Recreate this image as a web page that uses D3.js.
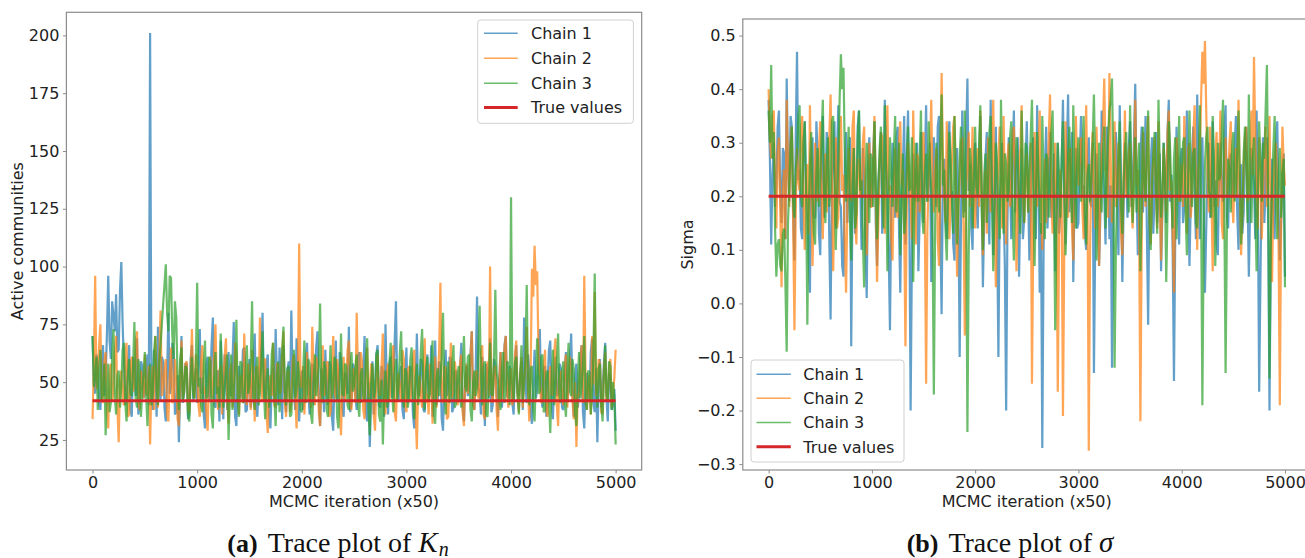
<!DOCTYPE html>
<html><head><meta charset="utf-8">
<script src="https://cdn.jsdelivr.net/npm/d3@7"></script>
<style>html,body{margin:0;padding:0;background:#fff;} svg{display:block}</style>
</head><body>
<svg id="c" width="1305" height="558"></svg>
<script>
// ---------------- data ----------------
const iterStep = 12.5;            // MCMC iteration (x50) between stored samples
const xTicks = [0, 1000, 2000, 3000, 4000, 5000];
const seriesNames = ["Chain 1", "Chain 2", "Chain 3", "True values"];
const trueK = 42;
const trueSigma = 0.2;
const kTicks = [25, 50, 75, 100, 125, 150, 175, 200];
const sigmaTicks = [-0.3, -0.2, -0.1, 0.0, 0.1, 0.2, 0.3, 0.4, 0.5];

const kChain1 = [
70,50,45,62,58,41,38,55,66,44,52,71,96,68,60,85,79,72,88,63,64,90,102,75,58,40,44,57,66,38,35,61,52,44,69,36,40,59,57,43,
46,55,62,40,201,48,38,64,55,35,74,50,42,61,59,39,33,52,80,45,48,67,63,36,37,53,24,47,70,41,45,58,58,34,36,60,66,42,49,56,
41,60,73,45,52,36,30,58,61,42,47,66,78,40,39,54,55,33,68,49,34,62,50,38,63,47,44,59,76,35,31,53,57,43,48,64,65,37,38,51,
60,39,45,57,71,42,35,50,54,63,80,44,42,58,62,36,30,48,56,41,73,52,40,65,52,34,66,47,37,55,59,43,81,50,46,38,69,56,33,49,
55,38,43,61,67,46,36,53,58,40,49,65,72,44,31,56,53,37,64,48,40,59,57,35,29,51,68,42,45,63,60,39,35,54,50,45,74,37,41,58,
56,44,38,60,63,41,47,55,70,37,33,50,22,45,59,36,44,62,66,40,39,57,54,35,75,49,36,58,61,43,48,67,85,46,42,53,57,38,34,52,
65,41,46,57,53,36,30,49,71,45,44,60,58,38,37,53,62,42,50,66,35,47,68,40,43,59,56,34,29,52,64,44,48,61,60,37,39,54,55,42,
42,56,67,39,33,51,57,44,49,62,72,41,38,55,87,48,45,36,61,50,31,58,54,43,69,37,40,60,58,45,35,52,63,39,47,66,70,44,43,57,
52,41,36,58,66,45,44,53,59,38,78,50,41,62,55,37,32,49,64,43,47,59,73,46,39,55,57,35,50,64,68,42,34,51,61,44,45,58,56,39,
38,55,63,42,48,60,71,45,35,52,58,39,44,61,66,37,30,50,54,44,42,63,69,41,37,56,24,48,60,39,46,58,67,43,33,54,52,38,40,47,
29];
const kChain2 = [
34,58,96,47,52,66,75,43,41,59,63,37,30,54,58,42,45,63,70,39,24,51,55,44,40,62,67,35,36,57,61,46,48,68,72,41,38,55,50,43,
62,45,44,57,23,49,57,38,70,52,39,61,81,44,47,56,60,36,33,53,65,41,42,60,55,34,31,50,68,43,46,58,59,38,37,55,73,47,43,62,
54,40,35,59,66,45,48,37,29,52,61,43,44,64,75,48,38,55,57,36,50,61,69,42,32,54,58,39,45,67,63,46,36,53,52,41,71,49,40,58,
47,38,64,51,33,57,56,42,78,47,42,60,60,36,28,49,53,44,67,40,39,58,58,45,46,63,72,41,35,54,55,37,41,59,62,44,30,52,110,48,
48,57,36,50,63,42,52,39,74,55,40,61,57,37,31,53,66,44,45,59,58,35,37,51,70,46,43,60,55,38,27,49,61,42,49,64,68,40,38,56,
53,41,80,52,41,63,59,38,34,55,65,43,47,58,56,36,29,50,62,45,44,57,71,39,36,54,58,42,48,61,66,37,33,52,54,46,42,64,60,40,
37,55,57,42,46,60,64,38,21,49,53,44,39,58,69,41,45,36,58,52,32,47,61,39,50,63,93,45,41,57,56,34,35,50,67,43,47,59,54,40,
43,58,62,37,31,52,58,45,49,61,72,40,38,54,55,43,44,63,66,36,34,51,59,44,100,47,41,56,57,38,29,50,63,42,48,65,70,45,39,53,
56,40,45,62,68,44,37,53,61,39,50,58,74,46,33,55,99,87,109,92,98,62,52,41,42,57,64,38,35,50,57,44,46,63,69,40,31,52,55,43,
40,56,62,39,48,61,57,42,34,50,22,45,44,58,66,41,96,53,38,47,53,36,70,49,89,44,47,60,58,37,36,55,63,42,43,57,60,39,45,52,
64];
const kChain3 = [
70,48,52,61,38,55,64,42,45,58,27,46,58,37,41,62,73,44,36,53,55,39,48,64,67,41,33,52,60,45,44,57,76,43,39,60,56,35,47,54,
63,44,31,52,58,40,45,63,70,47,40,58,66,75,84,92,101,80,72,96,95,70,60,85,78,52,38,60,65,42,46,57,56,36,33,51,61,44,43,59,
93,48,52,40,37,57,68,43,44,61,59,36,30,52,63,45,48,39,71,54,39,47,55,62,25,44,62,38,46,56,77,42,35,59,58,41,42,53,66,45,
49,60,85,43,38,55,61,40,45,58,72,47,34,51,56,39,43,62,67,44,31,53,59,37,50,64,74,46,40,56,57,35,36,50,64,43,47,59,53,38,
37,54,68,41,45,60,58,36,32,49,62,44,50,57,84,46,41,59,56,38,35,52,66,43,47,61,59,35,30,50,71,45,44,58,57,40,38,55,63,46,
48,57,62,40,35,53,56,44,42,60,69,38,27,49,58,43,46,62,64,36,33,51,23,45,55,39,41,58,67,46,37,54,60,42,49,63,72,44,39,56,
54,39,43,60,65,45,34,52,58,40,47,63,73,48,38,55,61,42,45,58,68,37,32,51,56,44,50,62,80,47,36,55,59,41,44,57,66,39,41,53,
57,43,39,55,70,48,46,61,62,38,33,50,55,44,48,65,83,52,40,57,59,36,35,49,67,45,44,60,90,54,51,42,38,56,63,41,47,59,58,40,
130,50,42,58,61,44,36,53,66,41,49,60,92,47,40,56,57,38,33,52,69,45,46,61,62,37,38,54,55,43,28,49,64,40,47,58,71,44,41,55,
59,42,35,54,67,46,44,60,56,37,31,50,63,43,48,57,70,41,38,55,54,36,45,62,97,48,39,56,58,40,33,52,66,45,42,59,57,38,50,44,
23];

const sigmaChain1 = [
.38,.27,.11,.24,.30,.18,.22,.33,.36,.21,.15,.29,.28,.12,.42,.26,.19,.35,.33,.17,.08,.31,.47,.23,.25,.14,.12,.30,.34,.20,.20,.09,.02,.27,.31,.16,.16,.34,.27,.13,
.09,.25,.35,.16,.21,.32,.30,.12,-.03,.22,.26,.34,.14,.28,.37,.19,.18,.07,.05,.26,.32,.15,.23,.31,-.08,.20,.29,.13,.17,.33,.36,.22,.10,.29,.24,.11,.01,.25,.31,.18,
.19,.28,.34,.15,.07,.23,.27,.32,.13,.20,.38,.26,.22,.10,-.05,.18,.30,.24,.16,.31,.33,.14,.02,.21,.25,.35,.11,.27,.36,.17,-.20,.09,.28,.23,.19,.30,.06,.16,.32,.22,
.15,.26,.37,.19,.24,.30,.04,.17,.31,.22,.18,.33,.35,.13,-.02,.24,.27,.16,.12,.29,.34,.20,.21,.11,.08,.27,.29,.18,-.10,.15,.36,.25,.17,.31,.42,.21,.26,.14,.10,.28,
.30,.19,.14,.27,.35,.22,.03,.16,.27,.32,.20,.11,.38,.25,.09,.20,.33,.14,-.10,.18,.24,.30,.18,.07,-.20,.15,.31,.23,.12,.28,.36,.17,.22,.31,.05,.19,.29,.12,.16,.26,
.34,.21,.08,.18,.27,.31,.19,.12,.37,.24,.02,.15,-.27,.10,.25,.33,.14,.22,.32,.16,.21,.28,.06,.19,.30,.13,.17,.26,.38,.21,.11,.29,.39,.17,.24,.32,.04,.20,.29,.14,
.15,.27,.35,.20,.22,.13,.10,.25,.31,.19,.18,.30,-.13,.12,.28,.21,.07,.17,.36,.24,.20,.11,.33,.27,.12,.22,-.12,.16,.26,.32,.19,.09,.37,.23,.04,.18,.30,.25,.16,.29,
.34,.18,.23,.30,.41,.22,.09,.16,.28,.33,.17,.25,.35,.14,-.04,.20,.26,.31,.13,.21,.32,.15,.20,.28,.06,.17,.30,.24,.15,.32,.38,.19,.24,.10,-.145,.13,.33,.22,.11,.27,
.29,.15,.18,.26,.36,.21,.07,.19,.27,.33,.21,.12,.39,.24,.12,.28,.31,.17,.02,.14,.25,.30,.16,.22,.34,.18,.23,.11,.09,.25,.30,.20,.19,.32,.37,.16,.14,.27,.28,.20,
.20,.29,.35,.17,.10,.24,.26,.13,.17,.30,.33,.21,.05,.18,.29,.25,.22,.12,.36,.19,-.165,.05,.24,.31,.15,.22,.31,.14,-.20,.10,.27,.21,.12,.30,.34,.18,.08,.15,.23,.28,
.05];
const sigmaChain2 = [
.40,.31,.27,.35,.36,.22,.14,.28,.31,.18,.03,.21,.25,.12,.38,.26,.18,.30,.33,.15,-.05,.17,.29,.23,.21,.32,.35,.19,.10,.24,.26,.13,.37,.22,.07,.18,.30,.25,.19,.29,
.34,.20,.12,.25,.28,.17,.22,.31,.39,.24,.06,.19,.31,.14,.16,.27,.35,.21,.24,.11,.02,.18,.29,.23,.19,.33,.36,.16,.11,.26,.27,.20,.21,.30,.33,.15,.09,.22,.30,.18,
.18,.27,.35,.20,.04,.15,.26,.32,.31,.19,.13,.24,.37,.21,.22,.12,.08,.23,.29,.17,.16,.30,.34,.22,.25,.14,-.08,.18,.30,.25,.19,.12,.36,.23,.11,.28,.27,.17,.21,.31,
.32,.16,-.15,.14,.24,.29,.38,.21,.17,.26,.29,.12,.07,.22,.43,.28,.20,.15,.34,.24,.12,.19,.27,.33,.35,.20,.05,.18,.23,.30,.31,.14,-.06,.21,.26,.32,.18,.24,.33,.16,
.14,.25,.29,.18,.36,.22,.09,.20,.25,.13,.31,.24,.17,.29,.38,.19,.03,.16,.27,.33,.22,.14,.35,.21,.11,.27,.30,.18,.19,.32,.33,.23,.06,.17,.26,.29,.37,.20,.15,.24,
.28,.17,.21,.30,-.15,.13,.32,.24,.18,.27,.36,.20,.10,.22,.27,.15,.23,.31,.39,.19,.13,.25,.30,.16,-.165,.12,.25,.20,-.21,.09,.34,.23,.16,.28,.29,.14,.08,.21,.35,.26,
.22,.29,.31,.18,.12,.26,.37,.21,-.275,.10,.26,.32,.19,.14,.33,.22,.07,.19,.29,.33,.42,.25,.24,.16,.43,.27,.15,.21,.34,.18,.20,.30,.27,.13,.09,.24,.36,.20,.23,.28,
.30,.19,.14,.26,.38,.22,.25,.15,-.22,.12,.32,.24,.18,.29,.35,.17,.11,.23,.27,.31,.21,.14,.34,.20,.08,.18,.29,.25,.17,.32,.36,.21,.23,.13,.02,.19,.31,.27,.19,.24,
.26,.18,.35,.23,.13,.29,.30,.16,.20,.31,.37,.22,.10,.25,.28,.38,.47,.41,.49,.36,.24,.17,.33,.21,.06,.19,.27,.32,.18,.24,.36,.15,.12,.27,.31,.20,.22,.30,.34,.19,
.15,.26,.29,.20,.38,.22,.09,.17,.26,.31,.33,.19,.20,.28,.36,.24,.46,.30,.23,.14,.31,.25,.12,.20,.28,.33,.18,.23,.35,.16,.04,.21,.27,.30,.21,.12,-.19,.15,.33,.26,
.22];
const sigmaChain3 = [
.36,.30,.445,.27,.32,.14,.05,.11,.12,.07,.06,.13,.14,.04,-.09,.15,.22,.29,.33,.19,.16,.25,.28,.35,.37,.20,.18,.30,.34,.22,-.04,.17,.26,.32,.20,.13,.11,.24,.29,.18,
.24,.31,.38,.20,.15,.26,.31,.18,.21,.34,.35,.23,.10,.19,.27,.38,.465,.40,.44,.28,.19,.25,.33,.16,.08,.22,.29,.14,.17,.31,.36,.21,.23,.12,.03,.20,.30,.26,.15,.28,
.27,.18,.34,.23,.12,.21,.29,.33,.20,.14,.37,.25,.06,.19,.31,.24,.18,.28,.35,.17,.24,.30,.09,.20,.28,.13,.16,.26,.33,.21,.22,.31,.04,.18,.30,.23,.19,.27,.36,.16,
.13,.24,.28,.19,.34,.26,.21,.12,-.17,.15,.30,.23,.17,.31,.39,.22,.25,.14,.08,.20,.32,.27,.19,.13,.35,.24,.11,.18,.27,.33,.22,.16,.36,.20,-.24,.09,.29,.25,.14,.22,
.33,.22,.20,.29,.37,.18,.10,.24,.28,.15,.23,.32,.35,.20,.06,.17,.30,.26,.17,.12,.38,.23,.13,.28,.26,.19,.21,.31,.34,.16,.08,.22,.31,.27,.19,.13,.36,.24,.15,.30,
.29,.17,.24,.31,.38,.21,.07,.19,.32,.25,.18,.13,.35,.23,.12,.28,.27,.16,.21,.32,.36,.19,-.05,.14,.30,.24,.16,.27,.34,.20,.09,.18,.28,.33,.22,.15,.37,.23,.14,.26,
.31,.22,.19,.27,.35,.16,.11,.24,.26,.19,.23,.30,.39,.25,.08,.18,.30,.21,.17,.28,.33,.14,.24,.31,.36,.38,.42,.26,-.12,.10,.20,.29,.34,.18,.13,.23,.28,.32,.22,.17,
.37,.24,.15,.21,.31,.17,.25,.30,.06,.19,.33,.23,.19,.28,.36,.15,.10,.22,.28,.32,.22,.13,.38,.26,.16,.20,.30,.24,.04,.17,.34,.29,.21,.14,.27,.31,.12,.23,.35,.19,
.23,.30,.31,.18,.09,.22,.36,.25,.18,.28,.29,.15,.14,.26,.37,.20,-.19,.12,.26,.31,.33,.21,.20,.16,.35,.27,.07,.19,.30,.23,.24,.32,.38,.18,-.13,.14,.27,.25,.17,.29,
.32,.19,.21,.28,.36,.24,.11,.17,.28,.33,.25,.15,.39,.22,.15,.27,.31,.18,.06,.20,.34,.26,.19,.30,.27,.36,.445,.21,-.14,.11,.23,.29,.35,.18,.12,.24,.29,.16,.24,.27,
.03];

// ---------------- drawing ----------------
const chainColors = ["#1f77b4", "#ff7f0e", "#2ca02c"];
const trueColor = "#d62728";
const FONT = "'DejaVu Sans', sans-serif";
const SERIF = "'Liberation Serif', 'Times New Roman', serif";
const svg = d3.select("#c");

function panel(cfg) {
  const g = svg.append("g");
  const x = d3.scaleLinear().domain([-250, 5249]).range(cfg.xRange);
  const y = d3.scaleLinear().domain(cfg.yDomain).range([470, cfg.top]);

  const line = d3.line().x((d, i) => x(i * iterStep)).y(d => y(d));
  cfg.chains.forEach((c, k) => {
    g.append("path").datum(c).attr("d", line)
      .attr("fill", "none").attr("stroke", chainColors[k])
      .attr("stroke-width", 2.2).attr("stroke-opacity", 0.7)
      .attr("stroke-linejoin", "bevel");
  });
  g.append("line").attr("x1", x(0)).attr("x2", x(4999))
    .attr("y1", y(cfg.trueVal)).attr("y2", y(cfg.trueVal))
    .attr("stroke", trueColor).attr("stroke-width", 3);

  g.append("rect").attr("x", cfg.xRange[0]).attr("y", cfg.top)
    .attr("width", cfg.xRange[1] - cfg.xRange[0]).attr("height", 470 - cfg.top)
    .attr("fill", "none").attr("stroke", "#8c8c8c").attr("stroke-width", 1.2);

  const xa = g.append("g").attr("transform", "translate(0,470)")
    .call(d3.axisBottom(x).tickValues(xTicks).tickFormat(d3.format("d")).tickSize(3.5).tickPadding(3));
  const ya = g.append("g").attr("transform", `translate(${cfg.xRange[0]},0)`)
    .call(d3.axisLeft(y).tickValues(cfg.yTicks).tickFormat(cfg.yFmt).tickSize(3.5).tickPadding(3.5));
  [xa, ya].forEach(a => {
    a.select(".domain").remove();
    a.selectAll(".tick line").attr("stroke", "#8c8c8c").attr("stroke-width", 1);
    a.selectAll(".tick text").attr("fill", "#222").style("font-family", FONT).style("font-size", "16px");
  });

  g.append("text").attr("x", (cfg.xRange[0] + cfg.xRange[1]) / 2).attr("y", 506.5)
    .attr("text-anchor", "middle").style("font-family", FONT).style("font-size", "16px")
    .attr("fill", "#222").text("MCMC iteration (x50)");
  g.append("text").attr("transform", `translate(${cfg.ylabelX},${(470 + cfg.top) / 2}) rotate(-90)`)
    .attr("text-anchor", "middle").style("font-family", FONT).style("font-size", "16px")
    .attr("fill", "#222").text(cfg.ylabel);

  const L = cfg.legend;
  const lg = g.append("g");
  lg.append("rect").attr("x", L.x0).attr("y", L.y0).attr("width", L.x1 - L.x0).attr("height", L.y1 - L.y0)
    .attr("rx", 3).attr("fill", "#fff").attr("fill-opacity", 0.8)
    .attr("stroke", "#d0d0d0").attr("stroke-width", 1);
  seriesNames.forEach((name, i) => {
    const yy = L.rows[i];
    lg.append("line").attr("x1", L.hx0).attr("x2", L.hx1).attr("y1", yy).attr("y2", yy)
      .attr("stroke", i < 3 ? chainColors[i] : trueColor)
      .attr("stroke-width", i < 3 ? 1.5 : 3).attr("stroke-opacity", i < 3 ? 0.7 : 1);
    lg.append("text").attr("x", L.tx).attr("y", yy + 5.8)
      .style("font-family", FONT).style("font-size", "16px").attr("fill", "#222").text(name);
  });

  const cap = g.append("text").attr("x", cfg.capX).attr("y", 552)
    .attr("text-anchor", "middle").style("font-family", SERIF)
    .style("font-size", "28px").attr("fill", "#111");
  cap.append("tspan").style("font-weight", "bold").style("font-size", "26px").text(cfg.capTag);
  cap.append("tspan").attr("dx", 10).text("Trace plot of ");
  cap.append("tspan").style("font-style", "italic").style("font-size", "29px").text(cfg.capSym);
  if (cfg.capSub) {
    cap.append("tspan").style("font-style", "italic").style("font-size", "20px").attr("dx", 1).attr("dy", 3.5).text(cfg.capSub);
  }
}

panel({
  xRange: [66.4, 641.7], top: 12.3, yDomain: [12, 210],
  chains: [kChain1, kChain2, kChain3], trueVal: trueK,
  yTicks: kTicks, yFmt: d3.format("d"),
  ylabel: "Active communities", ylabelX: 23,
  legend: {x0: 477.7, x1: 633.4, y0: 20, y1: 123.3, rows: [33.3, 58.3, 83.3, 107.5], hx0: 484, hx1: 517.7, tx: 531},
  capX: 338, capTag: "(a)", capSym: "K", capSub: "n"
});
panel({
  xRange: [742.8, 1310.7], top: 19, yDomain: [-0.311, 0.531],
  chains: [sigmaChain1, sigmaChain2, sigmaChain3], trueVal: trueSigma,
  yTicks: sigmaTicks, yFmt: d3.format(".1f"),
  ylabel: "Sigma", ylabelX: 693,
  legend: {x0: 751, x1: 904, y0: 360, y1: 462, rows: [374.3, 398.3, 422.5, 446.7], hx0: 756.5, hx1: 790.8, tx: 803.3},
  capX: 1010, capTag: "(b)", capSym: "σ", capSub: null
});
</script>
</body></html>
